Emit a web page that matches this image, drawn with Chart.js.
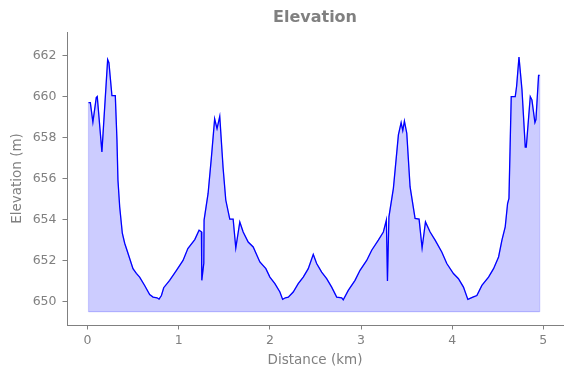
<!DOCTYPE html>
<html>
<head>
<meta charset="utf-8">
<script src="https://cdn.jsdelivr.net/npm/chart.js@4.4.0/dist/chart.umd.min.js"></script>
<style>
  html, body { margin: 0; padding: 0; background: #ffffff; }
  #wrap { width: 571px; height: 378px; }
</style>
</head>
<body>
<div id="wrap"><canvas id="c" width="571" height="378"></canvas></div>
<script>
const DIST = [0.01,0.03,0.058,0.095,0.106,0.157,0.22,0.234,0.267,0.304,0.322,0.333,0.352,0.381,0.407,0.443,0.498,0.535,0.571,0.626,0.681,0.718,0.762,0.784,0.81,0.835,0.90,0.975,1.047,1.10,1.176,1.223,1.249,1.253,1.275,1.278,1.322,1.359,1.394,1.42,1.45,1.487,1.516,1.56,1.597,1.626,1.67,1.707,1.762,1.817,1.89,1.956,2.0,2.055,2.11,2.14,2.17,2.202,2.256,2.311,2.366,2.421,2.476,2.513,2.568,2.623,2.678,2.733,2.788,2.805,2.86,2.934,2.989,3.062,3.117,3.19,3.245,3.278,3.29,3.306,3.355,3.41,3.44,3.458,3.476,3.502,3.538,3.593,3.637,3.67,3.707,3.758,3.813,3.886,3.941,4.014,4.069,4.124,4.172,4.227,4.271,4.326,4.399,4.454,4.509,4.546,4.582,4.608,4.623,4.648,4.692,4.707,4.733,4.766,4.802,4.813,4.857,4.875,4.908,4.919,4.948,4.96];
const ELEV = [659.7,659.7,658.75,659.95,660.0,657.3,661.8,661.65,660.04,660.04,657.9,655.93,654.62,653.33,652.84,652.35,651.6,651.37,651.19,650.78,650.34,650.21,650.18,650.11,650.29,650.67,651.03,651.52,652.0,652.58,653.02,653.48,653.4,651.03,651.86,653.97,655.27,657.07,658.91,658.43,659.03,656.5,654.95,654.02,654.02,652.61,653.88,653.39,652.9,652.66,651.93,651.6,651.19,650.87,650.46,650.1,650.18,650.21,650.46,650.87,651.19,651.6,652.3,651.85,651.43,651.11,650.7,650.21,650.18,650.08,650.54,651.03,651.52,652.0,652.5,652.99,653.39,653.97,651.0,654.13,655.52,658.13,658.73,658.34,658.8,658.21,655.6,654.05,654.02,652.61,653.88,653.39,652.99,652.41,651.85,651.36,651.11,650.7,650.1,650.21,650.29,650.78,651.19,651.6,652.17,652.99,653.64,654.78,655.03,660.0,660.0,660.5,661.93,660.33,657.53,657.53,660.0,659.84,658.73,658.87,661.03,661.03];
const BASE = 649.5;
const X_TICKS = [0,1,2,3,4,5];
const Y_TICKS = [650,652,654,656,658,660,662];
const X_MIN = -0.226, X_MAX = 5.216;
const Y_MIN = 648.85, Y_MAX = 663.15;

const linePts = DIST.map((d,i)=>({x:d, y:ELEV[i]}));
const fillPts = [{x:DIST[0], y:BASE}].concat(linePts, [{x:DIST[DIST.length-1], y:BASE}]);
const basePts = [{x:DIST[0], y:BASE},{x:DIST[DIST.length-1], y:BASE}];

const GREY = '#808080';
const EDGE = 'rgba(0,0,255,0.2)';
const FONT = "'DejaVu Sans', sans-serif";

new Chart(document.getElementById('c'), {
  type: 'line',
  data: {
    datasets: [
      { data: linePts, borderColor: '#0000ff', borderWidth: 1.3, pointRadius: 0, fill: false, tension: 0, order: 0 },
      { data: basePts, borderColor: EDGE, borderWidth: 1.2, pointRadius: 0, fill: false, tension: 0, order: 1 },
      { data: fillPts, borderColor: EDGE, borderWidth: 1.2, pointRadius: 0, backgroundColor: 'rgba(0,0,255,0.2)', fill: {value: BASE}, tension: 0, order: 2 }
    ]
  },
  options: {
    responsive: false,
    animation: false,
    devicePixelRatio: 1,
    layout: { padding: { left: 0, right: 8, top: 0, bottom: 0 } },
    plugins: {
      legend: { display: false },
      tooltip: { enabled: false },
      title: { display: false }
    },
    scales: {
      top: {
        type: 'linear', position: 'top', min: X_MIN, max: X_MAX,
        afterFit: s => { s.height = 32; },
        grid: { display: false, drawTicks: false },
        border: { display: false },
        ticks: { display: false },
        title: { display: true, text: 'Elevation', color: GREY, font: { family: FONT, size: 16, weight: 'bold', lineHeight: 1.2 }, padding: { top: 8.4, bottom: 0 } }
      },
      x: {
        type: 'linear', position: 'bottom', min: X_MIN, max: X_MAX,
        afterFit: s => { s.height = 53; },
        afterBuildTicks: s => { s.ticks = X_TICKS.map(v=>({value:v})); },
        grid: { display: true, drawOnChartArea: false, drawTicks: true, tickLength: 4.5, tickColor: GREY, tickWidth: 1 },
        border: { display: true, color: GREY, width: 1 },
        ticks: { color: GREY, font: { family: FONT, size: 12.5 }, padding: 4, maxRotation: 0, autoSkip: false },
        title: { display: true, text: 'Distance (km)', color: GREY, font: { family: FONT, size: 13.5, lineHeight: 1.2 }, padding: { top: 2, bottom: 9 } }
      },
      y: {
        type: 'linear', min: Y_MIN, max: Y_MAX,
        afterFit: s => { s.width = 67; },
        afterBuildTicks: s => { s.ticks = Y_TICKS.map(v=>({value:v})); },
        grid: { display: true, drawOnChartArea: false, drawTicks: true, tickLength: 4.5, tickColor: GREY, tickWidth: 1 },
        border: { display: true, color: GREY, width: 1 },
        ticks: { color: GREY, font: { family: FONT, size: 12.5 }, padding: 6, autoSkip: false },
        title: { display: true, text: 'Elevation (m)', color: GREY, font: { family: FONT, size: 13.5, lineHeight: 1.2 }, padding: { top: 9, bottom: 2 } }
      }
    }
  }
});
</script>
</body>
</html>
